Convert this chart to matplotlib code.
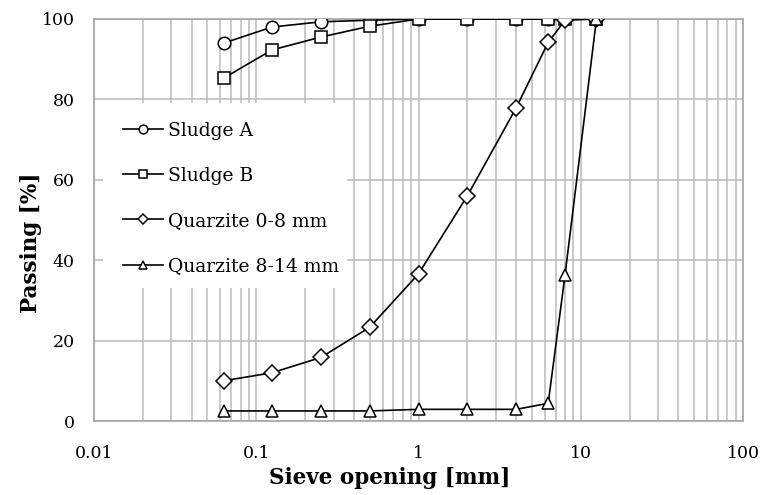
import matplotlib
matplotlib.use('Agg')
from matplotlib import pyplot as plt
from matplotlib.patches import Rectangle

# sieve openings [mm]
sieve = [0.063, 0.125, 0.25, 0.5, 1, 2, 4, 6.3, 8, 12.5]

sludge_a = [94.0, 98.0, 99.3, 99.7, 100, 100, 100, 100, 100, 100]
sludge_b = [85.3, 92.3, 95.5, 98.2, 100, 100, 100, 100, 100, 100]
quarz_0_8 = [10.0, 12.0, 15.8, 23.3, 36.6, 56.0, 77.9, 94.2, 99.7, 100]
quarz_8_14 = [2.5, 2.5, 2.5, 2.5, 2.9, 2.9, 2.9, 4.4, 36.3, 100]

series = [
    ('Sludge A', sludge_a, 'o'),
    ('Sludge B', sludge_b, 's'),
    ('Quarzite 0-8 mm', quarz_0_8, 'D'),
    ('Quarzite 8-14 mm', quarz_8_14, '^'),
]

plt.rcParams['font.family'] = ['DejaVu Serif']

fig = plt.figure(figsize=(7.6, 4.95), dpi=100)
ax = fig.add_axes([94 / 760, 74 / 495, 649 / 760, 402 / 495])

for name, vals, mk in series:
    ms = 8 if mk == 'D' else 9
    ax.plot(sieve, vals, color='black', lw=1.2, marker=mk, ms=ms,
            mfc='white', mec='black', mew=1.1, label=name, zorder=3)

ax.set_xscale('log')
ax.set_xlim(0.01, 100)
ax.set_ylim(0, 100)
ax.set_yticks([0, 20, 40, 60, 80, 100])
ax.set_xticks([0.01, 0.1, 1, 10, 100])
ax.set_xticklabels(['0.01', '0.1', '1', '10', '100'])

ax.set_axisbelow(True)
ax.grid(which='major', color='#bfbfbf', lw=1.2)
ax.grid(which='minor', axis='x', color='#bfbfbf', lw=1.2)
for s in ax.spines.values():
    s.set_color('#a6a6a6')
    s.set_linewidth(1.2)
ax.tick_params(which='both', length=0)
ax.tick_params(axis='x', pad=17, labelsize=12.5)
ax.tick_params(axis='y', pad=14, labelsize=12.5)

# white area behind the legend
ax.add_patch(Rectangle((0.014, 0.331), 0.376, 0.46, transform=ax.transAxes,
                       facecolor='white', edgecolor='none', zorder=1))

ax.legend(loc='upper left', bbox_to_anchor=(0.045, 0.745), frameon=False,
          fontsize=13.5, borderpad=0, borderaxespad=0, handlelength=2.13,
          handletextpad=0.27, labelspacing=1.45, markerscale=0.7)

ax.set_xlabel('Sieve opening [mm]', fontsize=15.5, fontweight='bold')
ax.set_ylabel('Passing [%]', fontsize=15.5, fontweight='bold')
ax.xaxis.set_label_coords(0.456, -0.115)
ax.yaxis.set_label_coords(-0.08, 0.443)

fig.savefig('out.png', dpi=100)
